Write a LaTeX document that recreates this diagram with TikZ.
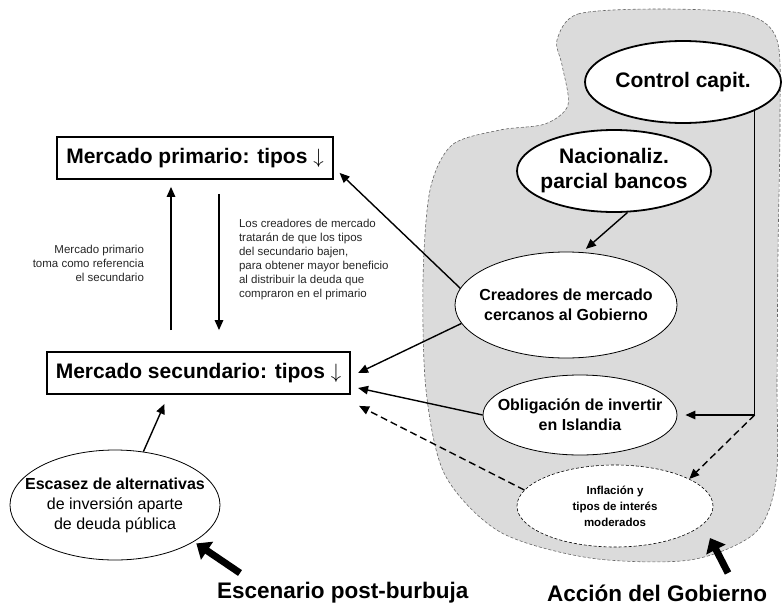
\documentclass[tikz,border=0pt]{standalone}
\usepackage{fontspec}
\setmainfont{Liberation Sans}
\usetikzlibrary{shapes.geometric,arrows.meta,positioning}

\begin{document}
\begin{tikzpicture}[x=1pt,y=-1pt,>={Triangle[length=10pt,width=8.5pt]},line width=1.4pt]
	\tikzstyle{box}=[draw,line width=1.8pt,font=\fontsize{21}{25}\selectfont\bfseries,minimum height=42pt,inner xsep=9pt]
	\tikzstyle{ell}=[ellipse,draw,fill=white,line width=0.8pt,inner sep=0pt]
	\tikzstyle{ellb}=[ell,line width=1.8pt]
	\tikzstyle{elld}=[ell,line width=0.6pt,densely dashed]
	\tikzstyle{dsh}=[dash pattern=on 7pt off 4pt]
	\tikzstyle{big}=[line width=7pt,-{Triangle[length=13pt,width=21pt]}]
	\tikzstyle{txtb}=[align=center,font=\fontsize{21}{25}\selectfont\bfseries]
	\tikzstyle{txtm}=[align=center,font=\fontsize{16}{20}\selectfont\bfseries]
	\tikzstyle{txts}=[align=center,font=\fontsize{11.5}{16}\selectfont\bfseries]
	\tikzstyle{note}=[font=\fontsize{11.5}{14}\selectfont,text=black!85]
	\tikzstyle{title}=[font=\fontsize{22.5}{27}\selectfont\bfseries]

	\useasboundingbox (0,0) rectangle (783,610);

	% Gobierno
	\draw[densely dashed,black!60,line width=0.6pt,fill=black!14] plot[smooth cycle] coordinates {
		(557,40) (578,14) (660,9) (745,14) (777,40) (780,120) (778,250) (777,380)
		(776,480) (755,533) (690,560) (590,558) (500,532) (445,475) (426,390)
		(423,280) (430,190) (452,145) (500,130) (545,124) (568,105) (562,65)};

	\node[box] (prim) at (195,158) {Mercado primario: tipos $\downarrow$};
	\node[box] (sec) at (198.5,373) {Mercado secundario: tipos $\downarrow$};

	\node[ellb,minimum width=196pt,minimum height=82pt,label={[txtb]center:Control capit.}] (ctrl) at (683,82) {};
	\node[ellb,minimum width=194pt,minimum height=82pt,label={[txtb]center:Nacionaliz.\\parcial bancos}] (nac) at (614,171) {};
	\node[ell,minimum width=222pt,minimum height=106pt,label={[txtm]center:Creadores de mercado\\cercanos al Gobierno}] (cread) at (566,305) {};
	\node[ell,minimum width=194pt,minimum height=80pt,label={[txtm]center:Obligación de invertir\\en Islandia}] (oblig) at (580,415) {};
	\node[elld,minimum width=196pt,minimum height=82pt,label={[txts]center:Inflación y\\tipos de interés\\moderados}] (infl) at (615,506) {};
	\node[ell,minimum width=210pt,minimum height=110pt,label={[txtm,font=\fontsize{16}{20}\selectfont]center:\textbf{Escasez de alternativas}\\de inversión aparte\\de deuda pública}] (esc) at (115,505) {};

	\node[note,align=right,anchor=east] (ref) at (148,263) {Mercado primario\\toma como referencia\\el secundario};
	\node[note,align=left,anchor=west] (why) at (235,260) {Los creadores de mercado\\tratarán de que los tipos\\del secundario bajen,\\para obtener mayor beneficio\\al distribuir la deuda que\\compraron en el primario};

	\node[title,anchor=west] (scen) at (213,593) {Escenario post-burbuja};
	\node[title,anchor=west] (gob) at (543,593) {Acción del Gobierno};

	\coordinate (prim1) at ([shift={(6pt,7pt)}]prim.south east);
	\coordinate (sec1) at ([xshift=7pt]sec.east);
	\coordinate (sec2) at ([shift={(7pt,-15pt)}]sec.east);
	\coordinate (sec3) at ([shift={(8pt,-11pt)}]sec.south east);
	\coordinate (sec4) at ([shift={(-34pt,-9pt)}]sec.south);
	\coordinate (upfoot) at ([xshift=-27.5pt,yshift=21pt]sec.north);
	\coordinate (downtop) at ([xshift=24pt,yshift=-14pt]prim.south);
	\coordinate (corner) at (ctrl.-22 |- oblig.east);

	\foreach \from/\to in {cread.171/prim1,cread.190/sec1,oblig.west/sec2,esc.62/sec4}
		\draw [->] (\from) -- (\to);
	\draw [->,shorten >=5pt] (nac.-72) -- (cread.73);
	\draw [->,shorten >=7pt] (upfoot) -- (upfoot |- prim.south);
	\draw [->,shorten >=21pt] (downtop) -- (downtop |- sec.north);
	\draw [->,shorten >=8pt] (ctrl.-22) |- (oblig.east);
	\draw [->,dsh] (corner) -- (infl.20);
	\draw [->,dsh] (infl.170) -- (sec3);

	\coordinate (scenfoot) at (240,573);
	\coordinate (govfoot) at (728,573);
	\coordinate (govtip) at (710,538);
	\draw [big,shorten >=3pt] (scenfoot) -- (esc.-25);
	\draw [big] (govfoot) -- (govtip);
\end{tikzpicture}
\end{document}
